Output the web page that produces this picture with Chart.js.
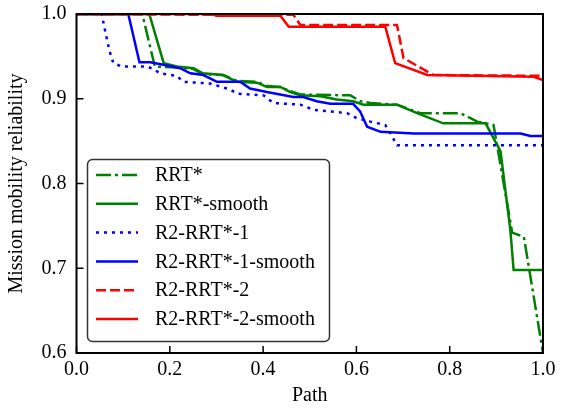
<!DOCTYPE html>
<html>
<head>
<meta charset="utf-8">
<script src="https://cdn.jsdelivr.net/npm/chart.js@4"></script>
<style>
  html, body { margin: 0; padding: 0; background: #fff; }
  #wrap { width: 564px; height: 408px; }
</style>
</head>
<body>
<div id="wrap"><canvas id="reliabilityChart" width="564" height="408"></canvas></div>
<script>
// path position (0..1) and reliability for each planner
const rrtX = [0, 0.141, 0.168, 0.215, 0.251, 0.271, 0.314, 0.344, 0.387, 0.408, 0.437, 0.458, 0.480, 0.587, 0.609, 0.630, 0.687, 0.737, 0.823, 0.859, 0.894, 0.934, 0.959, 1.0];
const rrtY = [1.0, 1.0, 0.938, 0.937, 0.935, 0.929, 0.928, 0.921, 0.920, 0.915, 0.914, 0.909, 0.905, 0.904, 0.897, 0.895, 0.893, 0.883, 0.883, 0.873, 0.869, 0.742, 0.737, 0.6];

const rrtSmoothX = [0, 0.156, 0.187, 0.215, 0.251, 0.271, 0.314, 0.344, 0.387, 0.408, 0.437, 0.458, 0.480, 0.523, 0.558, 0.593, 0.615, 0.687, 0.730, 0.786, 0.877, 0.909, 0.930, 0.937, 1.0];
const rrtSmoothY = [1.0, 1.0, 0.942, 0.938, 0.936, 0.930, 0.928, 0.920, 0.919, 0.914, 0.914, 0.908, 0.904, 0.903, 0.899, 0.897, 0.893, 0.893, 0.883, 0.871, 0.871, 0.838, 0.745, 0.698, 0.698];

const r2oneX = [0, 0.054, 0.061, 0.070, 0.079, 0.097, 0.151, 0.165, 0.179, 0.215, 0.229, 0.286, 0.329, 0.344, 0.401, 0.422, 0.480, 0.508, 0.580, 0.601, 0.630, 0.662, 0.673, 0.687, 1.0];
const r2oneY = [1.0, 1.0, 0.981, 0.958, 0.942, 0.938, 0.938, 0.935, 0.930, 0.927, 0.920, 0.918, 0.911, 0.906, 0.904, 0.895, 0.893, 0.887, 0.883, 0.877, 0.873, 0.869, 0.859, 0.845, 0.845];

const r2oneSmoothX = [0, 0.111, 0.135, 0.158, 0.186, 0.222, 0.244, 0.272, 0.301, 0.351, 0.372, 0.408, 0.465, 0.486, 0.515, 0.544, 0.593, 0.608, 0.623, 0.652, 0.723, 0.952, 0.973, 1.0];
const r2oneSmoothY = [1.0, 1.0, 0.943, 0.943, 0.940, 0.936, 0.930, 0.928, 0.920, 0.920, 0.912, 0.908, 0.902, 0.902, 0.897, 0.894, 0.894, 0.885, 0.867, 0.861, 0.859, 0.859, 0.856, 0.856];

const r2twoX = [0, 0.300, 0.465, 0.480, 0.687, 0.701, 0.765, 1.0];
const r2twoY = [1.0, 0.999, 0.999, 0.987, 0.987, 0.948, 0.928, 0.927];

const r2twoSmoothX = [0, 0.290, 0.300, 0.437, 0.455, 0.662, 0.683, 0.752, 0.980, 1.0];
const r2twoSmoothY = [1.0, 1.0, 0.998, 0.998, 0.985, 0.985, 0.942, 0.928, 0.926, 0.922];

const seriesNames = ["RRT*", "RRT*-smooth", "R2-RRT*-1", "R2-RRT*-1-smooth", "R2-RRT*-2", "R2-RRT*-2-smooth"];
const xTicks = [0, 0.2, 0.4, 0.6, 0.8, 1.0];
const yTicks = [0.6, 0.7, 0.8, 0.9, 1.0];

const FONT = "'Liberation Serif', 'Times New Roman', serif";

function pts(xs, ys) {
  return xs.map((x, i) => ({ x: x, y: ys[i] }));
}

const styles = [
  { color: "#008000", dash: [15, 4, 3, 4] },
  { color: "#008000", dash: [] },
  { color: "#0000ff", dash: [3, 5] },
  { color: "#0000ff", dash: [] },
  { color: "#ff0000", dash: [10, 4] },
  { color: "#ff0000", dash: [] },
];
const allData = [
  pts(rrtX, rrtY), pts(rrtSmoothX, rrtSmoothY),
  pts(r2oneX, r2oneY), pts(r2oneSmoothX, r2oneSmoothY),
  pts(r2twoX, r2twoY), pts(r2twoSmoothX, r2twoSmoothY),
];

// black box round the plot with inward ticks, like matplotlib
const framePlugin = {
  id: "frame",
  afterDatasetsDraw(chart) {
    const { ctx, chartArea: a, scales } = chart;
    ctx.save();
    ctx.strokeStyle = "#000";
    ctx.lineWidth = 1.5;
    ctx.setLineDash([]);
    xTicks.forEach((v) => {
      const px = scales.x.getPixelForValue(v);
      ctx.beginPath();
      ctx.moveTo(px, a.bottom);
      ctx.lineTo(px, a.bottom - 7);
      ctx.stroke();
    });
    yTicks.forEach((v) => {
      const py = scales.y.getPixelForValue(v);
      ctx.beginPath();
      ctx.moveTo(a.left, py);
      ctx.lineTo(a.left + 7, py);
      ctx.stroke();
    });
    ctx.lineWidth = 2;
    ctx.strokeRect(a.left, a.top, a.right - a.left, a.bottom - a.top);
    ctx.restore();
  },
};

// legend box in the lower left of the plot
const legendPlugin = {
  id: "boxLegend",
  afterDraw(chart) {
    const ctx = chart.ctx;
    const bx = 87.5, by = 159.5, bw = 242, bh = 182, r = 5;
    ctx.save();
    ctx.fillStyle = "#fff";
    ctx.strokeStyle = "#333";
    ctx.lineWidth = 1.5;
    ctx.beginPath();
    ctx.roundRect(bx, by, bw, bh, r);
    ctx.fill();
    ctx.stroke();
    ctx.font = "20px " + FONT;
    ctx.textBaseline = "middle";
    ctx.fillStyle = "#000";
    chart.data.datasets.forEach((ds, i) => {
      const y = 175 + i * 28.8;
      ctx.strokeStyle = ds.borderColor;
      ctx.lineWidth = 2.5;
      ctx.setLineDash(ds.borderDash);
      ctx.beginPath();
      ctx.moveTo(96, y);
      ctx.lineTo(138, y);
      ctx.stroke();
      ctx.fillText(ds.label, 155, y + 1);
    });
    ctx.restore();
  },
};

new Chart(document.getElementById("reliabilityChart"), {
  type: "line",
  data: {
    datasets: seriesNames.map((name, i) => ({
      label: name,
      data: allData[i],
      borderColor: styles[i].color,
      borderDash: styles[i].dash,
      borderWidth: 2.5,
      borderCapStyle: "butt",
      pointRadius: 0,
      tension: 0,
      fill: false,
      order: 6 - i,
    })),
  },
  options: {
    responsive: false,
    animation: false,
    events: [],
    layout: { padding: { top: 14, right: 21, left: 0, bottom: 0 } },
    plugins: { legend: { display: false }, tooltip: { enabled: false } },
    scales: {
      x: {
        type: "linear",
        min: 0,
        max: 1,
        afterFit: (s) => { s.height = 55; },
        afterBuildTicks: (s) => { s.ticks = xTicks.map((v) => ({ value: v })); },
        grid: { display: false },
        border: { display: false },
        ticks: {
          color: "#000",
          font: { family: FONT, size: 20 },
          padding: -3,
          callback: (v) => v.toFixed(1),
        },
        title: {
          display: true,
          text: "Path",
          color: "#000",
          font: { family: FONT, size: 20 },
          padding: { top: 12, bottom: 0 },
        },
      },
      y: {
        min: 0.6,
        max: 1.0,
        afterFit: (s) => { s.width = 76.5; },
        afterBuildTicks: (s) => { s.ticks = yTicks.map((v) => ({ value: v })); },
        grid: { display: false },
        border: { display: false },
        ticks: {
          color: "#000",
          font: { family: FONT, size: 20 },
          padding: 2,
          callback: (v) => v.toFixed(1),
        },
        title: {
          display: true,
          text: "Mission mobility reliability",
          color: "#000",
          font: { family: FONT, size: 20 },
          padding: { top: 5, bottom: 0 },
        },
      },
    },
  },
  plugins: [framePlugin, legendPlugin],
});
</script>
</body>
</html>
